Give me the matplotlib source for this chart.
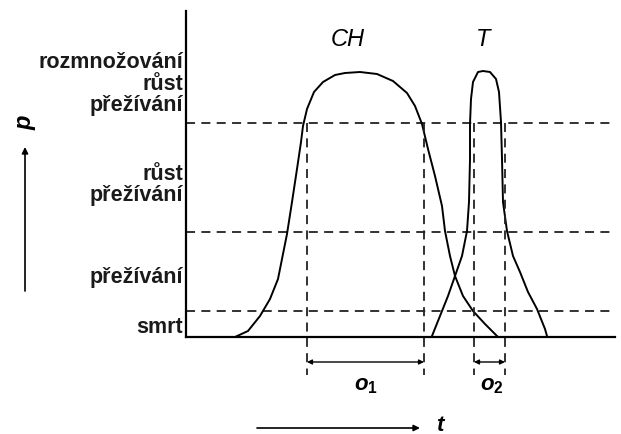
import numpy as np
import matplotlib.pyplot as plt

plt.rcParams['font.family'] = ['Liberation Sans', 'DejaVu Sans']
plt.rcParams['mathtext.fontset'] = 'custom'
plt.rcParams['mathtext.it'] = 'Liberation Sans:italic:bold'
plt.rcParams['mathtext.rm'] = 'Liberation Sans:bold'

# curve CH, t and p
ch_t = [49, 62, 74, 84, 92, 96, 101, 106, 111, 115, 117, 121, 128, 137, 149, 159,
        174, 191, 207, 221, 229, 236, 242, 249, 256, 259, 264, 269, 277, 287, 299, 311]
ch_p = [0, 6, 21, 38, 58, 78, 103, 135, 168, 195, 211, 228, 245, 255, 262, 264,
        265, 263, 256, 244, 231, 213, 188, 161, 131, 106, 81, 61, 41, 26, 13, 1]

# curve T
t_t = [246, 254, 262, 269, 276, 281, 283, 284, 284, 285, 287, 292, 297, 304, 310,
       313, 315, 316, 317, 321, 327, 334, 342, 351, 359, 361]
t_p = [1, 21, 41, 61, 81, 106, 135, 178, 213, 238, 255, 265, 266, 265, 258,
       245, 215, 178, 135, 106, 81, 65, 45, 28, 8, 1]

# horizontal zone boundaries
levels = [214, 105, 26]

# zone labels (text, p position)
zone_labels = ['rozmnožování', 'růst', 'přežívání', 'růst', 'přežívání', 'přežívání', 'smrt']
zone_pos = [275, 254, 232, 164, 142, 61, 10]

# optimum ranges o1, o2
o1 = (121, 238)
o2 = (288, 319)

fig = plt.figure(figsize=(6.21, 4.35), dpi=100)
ax = fig.add_axes([186 / 621, 97 / 435, 429 / 621, 326 / 435])
ax.set_xlim(0, 429)
ax.set_ylim(0, 326)
for s in ['top', 'right']:
    ax.spines[s].set_visible(False)
for s in ['left', 'bottom']:
    ax.spines[s].set_linewidth(1.6)
ax.set_xticks([])
ax.set_yticks([])

dash = (0, (5, 3.5))
for lv in levels:
    ax.plot([0, 427], [lv, lv], color='#222222', lw=1.3, ls=dash, clip_on=False)

ax.plot(ch_t, ch_p, color='black', lw=1.4, solid_joinstyle='round')
ax.plot(t_t, t_p, color='black', lw=1.4, solid_joinstyle='round')

for x in list(o1) + list(o2):
    ax.plot([x, x], [levels[0], -38], color='#222222', lw=1.3, ls=dash, clip_on=False)

arrow = dict(arrowstyle='<|-|>', color='black', lw=1.0, mutation_scale=7, shrinkA=0, shrinkB=0)
for rng in [o1, o2]:
    ax.annotate('', xy=(rng[0], -25), xytext=(rng[1], -25), arrowprops=arrow,
                annotation_clip=False)
ax.text(sum(o1) / 2, -47, '$o_1$', fontsize=16, ha='center', va='center')
ax.text(sum(o2) / 2 + 2, -47, '$o_2$', fontsize=16, ha='center', va='center')

ax.text(162, 298, 'CH', fontsize=17, style='italic', ha='center', va='center')
ax.text(297, 298, 'T', fontsize=17, style='italic', ha='center', va='center')

for lab, pos in zip(zone_labels, zone_pos):
    ax.text(-3, pos, lab, fontsize=15.5, fontweight='bold', ha='right', va='center',
            color='#1a1a1a')

# axis arrows t and p
fig_arrow = dict(arrowstyle='-|>', color='black', lw=1.2, mutation_scale=9, shrinkA=0, shrinkB=0)
ax.annotate('', xy=(420, 6), xytext=(257, 6), xycoords='figure pixels',
            textcoords='figure pixels', arrowprops=fig_arrow)
fig.text(440 / 621, 4 / 435, 't', fontsize=16, style='italic', fontweight='bold',
         ha='center', va='baseline')
ax.annotate('', xy=(25, 435 - 148), xytext=(25, 435 - 292), xycoords='figure pixels',
            textcoords='figure pixels', arrowprops=fig_arrow)
fig.text(25 / 621, 1 - 123 / 435, 'p', fontsize=17, style='italic', fontweight='bold',
         rotation=90, ha='center', va='center')

fig.savefig('out.png', dpi=100)
